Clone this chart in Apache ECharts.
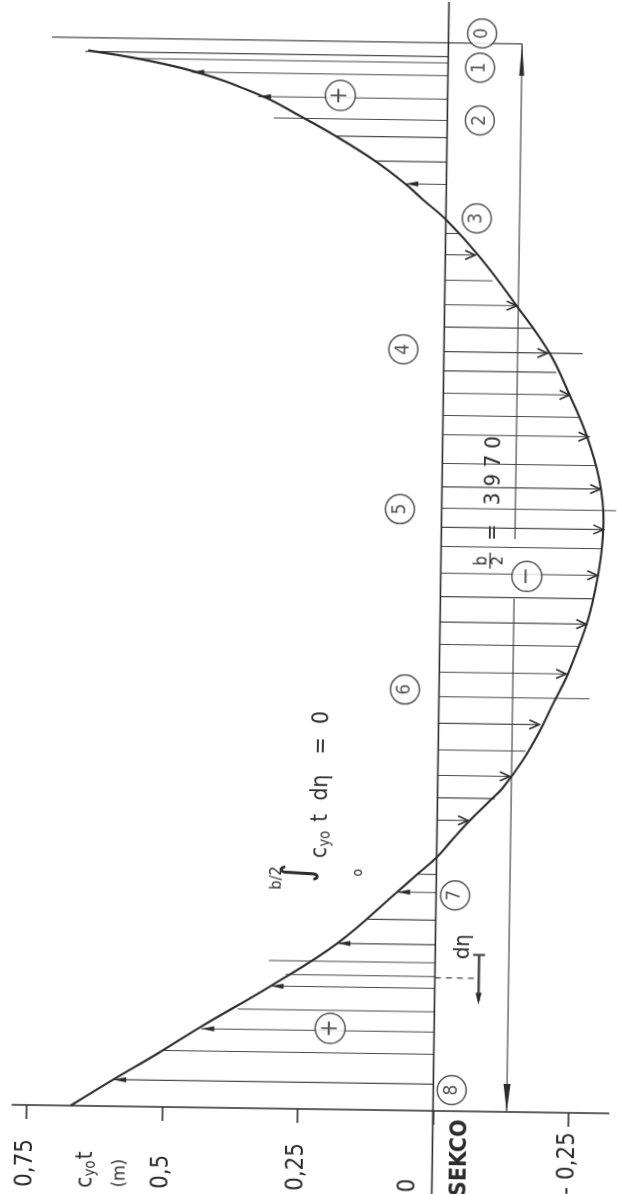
<!DOCTYPE html>
<html>
<head>
<meta charset="utf-8">
<script src="https://cdn.jsdelivr.net/npm/echarts@6/dist/echarts.min.js"></script>
<style>
  html, body { margin: 0; padding: 0; background: #ffffff; overflow: hidden; }
  /* the sheet sits slightly skewed on the page */
  #chart { width: 617px; height: 1194px; transform: rotate(0.83deg); transform-origin: 50% 50%; }
</style>
</head>
<body>
<div id="chart"></div>
<script>
// c_y0·t distribution over the half span (eta = fraction of b/2), stations 0..8

const halfSpan = 3970;

const stationNames = ['0', '1', '2', '3', '4', '5', '6', '7', '8'];
const stationEta   = [0, 0.019, 0.076, 0.169, 0.293, 0.444, 0.617, 0.805, 1.0];

// the curve c_y0·t (m) along the span
const curveEta = [0.009, 0.025, 0.049, 0.068, 0.086, 0.109, 0.130, 0.145, 0.163,
                  0.198, 0.243, 0.287, 0.326, 0.363, 0.405, 0.445, 0.473, 0.499,
                  0.520, 0.542, 0.567, 0.592, 0.617, 0.642, 0.670, 0.696, 0.708,
                  0.727, 0.746, 0.762, 0.778, 0.795, 0.844, 0.885, 0.924, 0.950, 0.975, 1.0];
const curveValue = [0.665, 0.487, 0.345, 0.271, 0.206, 0.132, 0.076, 0.042, 0.0,
                    -0.064, -0.133, -0.195, -0.233, -0.265, -0.290, -0.299, -0.296, -0.289,
                    -0.281, -0.270, -0.253, -0.234, -0.210, -0.187, -0.156, -0.120, -0.097,
                    -0.060, -0.027, 0.0, 0.035, 0.072, 0.181, 0.303, 0.430, 0.510, 0.591, 0.669];

// hatch strips: position, value at the curve, arrow flag, reach of longer lines (0 = none)
const hatchEta = [0.010, 0.016, 0.028, 0.050, 0.070, 0.086, 0.109, 0.130,
                  0.176, 0.196, 0.220, 0.243, 0.264, 0.287, 0.305, 0.326, 0.347, 0.365,
                  0.392, 0.414, 0.434, 0.452, 0.470, 0.495, 0.517, 0.541, 0.562, 0.588,
                  0.611, 0.636, 0.661, 0.685, 0.706, 0.727,
                  0.778, 0.795, 0.821, 0.844, 0.861, 0.874, 0.885, 0.907, 0.926, 0.947, 0.975];
const hatchValue = [0.670, 0.570, 0.474, 0.350, 0.262, 0.206, 0.132, 0.076,
                    -0.023, -0.055, -0.088, -0.133, -0.161, -0.191, -0.208, -0.233, -0.254, -0.269,
                    -0.284, -0.292, -0.298, -0.299, -0.296, -0.289, -0.281, -0.270, -0.256, -0.234,
                    -0.213, -0.186, -0.161, -0.133, -0.106, -0.057,
                    0.035, 0.072, 0.125, 0.181, 0.234, 0.276, 0.303, 0.363, 0.430, 0.500, 0.591];
const hatchArrow = [0, 0, 1, 1, 0, 0, 0, 1,
                    0, 1, 0, 1, 0, 1, 0, 1, 0, 1,
                    0, 1, 0, 1, 0, 1, 0, 1, 0, 1,
                    0, 1, 0, 1, 0, 1,
                    0, 1, 0, 1, 0, 0, 1, 0, 1, 0, 1];
const hatchReach = [0, 0, 0, 0, 0.320, 0, 0, 0,
                    0, 0, 0, 0, 0, -0.256, 0, 0, 0, 0,
                    0, 0, -0.322, 0, 0, 0, 0, 0, 0, 0,
                    -0.278, 0, 0, 0, 0, 0,
                    0, 0, 0, 0, 0.307, 0, 0, 0, 0, 0, 0];

const tickValues = [0.75, 0.5, 0.25, 0, -0.25];
const tickLabels = ['0,75', '0,5', '0,25', '0', '- 0,25'];

// ---- drawing styles and placement ----
const INK = '#2c2c2c';
const PEN = '#4a4a4a';
const FONT = '"DejaVu Sans Condensed", "DejaVu Sans", sans-serif';
const ROT = Math.PI / 2;

const stationLabelV  = [-0.062, -0.059, -0.060, -0.057, 0.075, 0.077, 0.063, -0.035, -0.034];
const stationLabelDy = [-13, 1, -7, -8, -8, -9, -13, -8, -21];

const signMarks = [
  { value: [0.198, 0.048], name: '+' },
  { value: [-0.159, 0.497], name: '\u2212' },
  { value: [0.192, 0.924], name: '+' }
];

const dimV = -0.136;      // dimension line for b/2
const dEtaV = -0.081;     // d-eta marker

const chart = echarts.init(document.getElementById('chart'), null, { renderer: 'canvas' });

function renderHatch(params, api) {
  const eta = api.value(0), end = api.value(1), arrow = api.value(2), reach = api.value(3);
  const p0 = api.coord([0, eta]);
  const pe = api.coord([end, eta]);
  const far = reach !== 0 ? api.coord([reach, eta]) : pe;
  const children = [{
    type: 'line',
    shape: { x1: p0[0], y1: p0[1], x2: far[0], y2: far[1] },
    style: { stroke: PEN, lineWidth: 1.1 }
  }];
  if (arrow) {
    const dir = Math.sign(pe[0] - p0[0]);
    if (dir < 0) {
      children.push({
        type: 'polygon',
        shape: { points: [[pe[0], pe[1]], [pe[0] + 13, pe[1] - 2.6], [pe[0] + 13, pe[1] + 2.6]] },
        style: { fill: INK }
      });
    } else {
      children.push({
        type: 'polyline',
        shape: { points: [[pe[0] - 10, pe[1] - 4.5], [pe[0], pe[1]], [pe[0] - 10, pe[1] + 4.5]] },
        style: { stroke: INK, lineWidth: 1.6, fill: null }
      });
    }
  }
  return { type: 'group', children };
}

function renderNotes(params, api) {
  const c = (v, e) => api.coord([v, e]);
  const top = c(dimV, -0.003);
  const ext = c(0.732, -0.003);
  const gapA = c(dimV, 0.462);
  const gapB = c(dimV, 0.518);
  const bot = c(dimV, 1.0);
  const m0 = c(dEtaV, 0.853), m1 = c(dEtaV, 0.896);
  const d0 = c(0, 0.875), d1 = c(dEtaV, 0.875);
  const line = (a, b, w, dash) => ({
    type: 'line', shape: { x1: a[0], y1: a[1], x2: b[0], y2: b[1] },
    style: { stroke: PEN, lineWidth: w, lineDash: dash || null }
  });
  return {
    type: 'group',
    children: [
      line(ext, top, 1.3),
      line(top, gapA, 1.2),
      line(gapB, bot, 1.2),
      { type: 'polygon', shape: { points: [[top[0], top[1]], [top[0] - 2.5, top[1] + 32], [top[0] + 2.5, top[1] + 32]] }, style: { fill: INK } },
      { type: 'polygon', shape: { points: [[bot[0], bot[1]], [bot[0] - 3.5, bot[1] - 28], [bot[0] + 3.5, bot[1] - 28]] }, style: { fill: INK } },
      line(m0, m1, 2.6),
      line([m0[0] - 6, m0[1]], [m0[0] + 6, m0[1]], 2.2),
      { type: 'polygon', shape: { points: [[m1[0], m1[1] + 4], [m1[0] - 3, m1[1] - 8], [m1[0] + 3, m1[1] - 8]] }, style: { fill: INK } },
      line(d0, d1, 1.1, [6, 5])
    ]
  };
}

const vtext = (x, y, text, size, extra) => ({
  type: 'text', x, y, rotation: ROT,
  style: Object.assign({ text, fill: INK, font: `${size}px ${FONT}`, textAlign: 'left', textVerticalAlign: 'middle' }, extra || {})
});

const option = {
  backgroundColor: '#ffffff',
  animation: false,
  grid: { left: 19.5, right: 0, top: 44, bottom: 79.5, containLabel: false },
  xAxis: {
    type: 'value',
    inverse: true,
    min: -0.326,
    max: 0.777,
    position: 'bottom',
    splitLine: { show: false },
    axisLine: { show: true, onZero: false, lineStyle: { color: INK, width: 1.6 } },
    axisTick: { show: true, customValues: tickValues, length: 14, lineStyle: { color: INK, width: 1.6 } },
    axisLabel: {
      customValues: tickValues,
      rotate: 90,
      align: 'left',
      verticalAlign: 'middle',
      margin: 82,
      color: INK,
      fontSize: 24,
      fontFamily: FONT,
      formatter: (val) => {
        const s = tickLabels[tickValues.indexOf(val)];
        return val === 0 ? '{z|' + s + '}' : s;
      },
      rich: { z: { fontSize: 24, fontFamily: FONT, color: INK, padding: [0, 0, 48, 0] } }
    }
  },
  yAxis: { type: 'value', inverse: true, min: 0, max: 1, show: false },
  graphic: [
    // integral condition
    vtext(304, 873, '\u222B', 40, { textAlign: 'center' }),
    vtext(281, 890, 'b/2', 16),
    vtext(362, 872, 'o', 14, { textAlign: 'center' }),
    {
      type: 'text', x: 324, y: 858, rotation: ROT,
      style: {
        text: 'c{s|yo} t  d\u03B7   =  0',
        fill: INK, font: `23px ${FONT}`, textAlign: 'left', textVerticalAlign: 'middle',
        rich: { s: { font: `15px ${FONT}`, fill: INK, verticalAlign: 'bottom', padding: [10, 2, 0, 0] } }
      }
    },
    // b/2 = 3970
    vtext(481.5, 558.5, 'b', 17, { textAlign: 'center' }),
    vtext(497.5, 558, '2', 16, { textAlign: 'center' }),
    { type: 'line', shape: { x1: 489.5, y1: 550, x2: 489.5, y2: 566 }, style: { stroke: INK, lineWidth: 1.3 } },
    vtext(492, 538, '=   ' + String(halfSpan).split('').join(' '), 22),
    // d-eta
    vtext(468, 957, 'd\u03B7', 22),
    // section name and value-axis caption
    vtext(468, 1194, 'SEKCO', 23, { font: `bold 23px ${FONT}` }),
    {
      type: 'text', x: 94, y: 1191, rotation: ROT,
      style: {
        text: 'c{s|yo}t',
        fill: INK, font: `23px ${FONT}`, textAlign: 'left', textVerticalAlign: 'middle',
        rich: { s: { font: `15px ${FONT}`, fill: INK, verticalAlign: 'bottom', padding: [10, 1, 0, 0] } }
      }
    },
    vtext(128, 1190, '(m)', 18)
  ],
  series: [
    {
      type: 'custom',
      name: 'hatch',
      renderItem: renderHatch,
      clip: false,
      z: 2,
      encode: { x: 1, y: 0 },
      data: hatchEta.map((e, i) => [e, hatchValue[i], hatchArrow[i], hatchReach[i]])
    },
    {
      type: 'custom',
      name: 'dimensions',
      renderItem: renderNotes,
      clip: false,
      z: 2,
      data: [[0, 0]]
    },
    {
      type: 'line',
      name: 'zero line',
      data: [[0, -0.045], [0, 1.08]],
      clip: false,
      showSymbol: false,
      lineStyle: { color: INK, width: 1.6 },
      z: 3
    },
    {
      type: 'line',
      name: 'cy0 t',
      data: curveEta.map((e, i) => [curveValue[i], e]),
      smooth: 0.4,
      showSymbol: false,
      clip: false,
      lineStyle: { color: INK, width: 2.1 },
      z: 4
    },
    {
      type: 'scatter',
      name: 'stations',
      z: 6,
      symbol: 'circle',
      symbolSize: 29,
      clip: false,
      itemStyle: { color: '#ffffff', borderColor: INK, borderWidth: 1.5 },
      label: { show: true, position: 'inside', rotate: 90, color: INK, fontSize: 19, fontFamily: FONT, formatter: (p) => p.name },
      data: stationNames.map((n, i) => ({ name: n, value: [stationLabelV[i], stationEta[i]], symbolOffset: [0, stationLabelDy[i]] }))
    },
    {
      type: 'scatter',
      name: 'signs',
      z: 6,
      symbol: 'circle',
      symbolSize: 30,
      clip: false,
      itemStyle: { color: '#ffffff', borderColor: INK, borderWidth: 1.5 },
      label: { show: true, position: 'inside', rotate: 90, color: INK, fontSize: 24, fontFamily: FONT, formatter: (p) => p.name },
      data: signMarks
    }
  ]
};

chart.setOption(option);
</script>
</body>
</html>
